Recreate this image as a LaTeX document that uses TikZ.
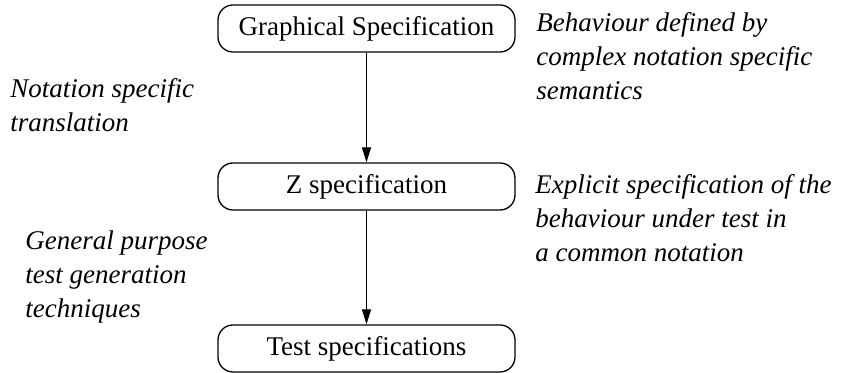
\documentclass[tikz,border=0pt]{standalone}
\usepackage{fontspec}
\setmainfont{Liberation Serif}
\usetikzlibrary{arrows.meta}
\begin{document}
\begin{tikzpicture}[x=0.5pt,y=-0.5pt,
  stagebox/.style={draw, line width=0.65pt, rounded corners=7.5pt, minimum width=148.5pt, minimum height=23.5pt, inner sep=0pt, font=\fontsize{13.5}{17}\selectfont},
  note/.style={align=left, inner sep=0pt, anchor=base west, font=\fontsize{13.5}{17}\selectfont\itshape},
  flow/.style={line width=0.65pt, -{Triangle[length=7.5pt,width=4.5pt]}}]
\useasboundingbox (0,0) rectangle (842,373);
\node[stagebox] (gs) at (366.5,28.5) {Graphical Specification};
\node[stagebox] (zs) at (366.5,186.5) {Z specification};
\node[stagebox] (ts) at (366.5,348.5) {Test specifications};
\draw[flow] (gs) -- (zs);
\draw[flow] (zs) -- (ts);
\node[note] (n1) at (10,132) {Notation specific\\translation};
\node[note] (n2) at (25,318) {General purpose\\test generation\\techniques};
\node[note] (n3) at (536,100) {Behaviour defined by\\complex notation specific\\semantics};
\node[note] (n4) at (535,262) {Explicit specification of the\\behaviour under test in\\a common notation};
\end{tikzpicture}
\end{document}
